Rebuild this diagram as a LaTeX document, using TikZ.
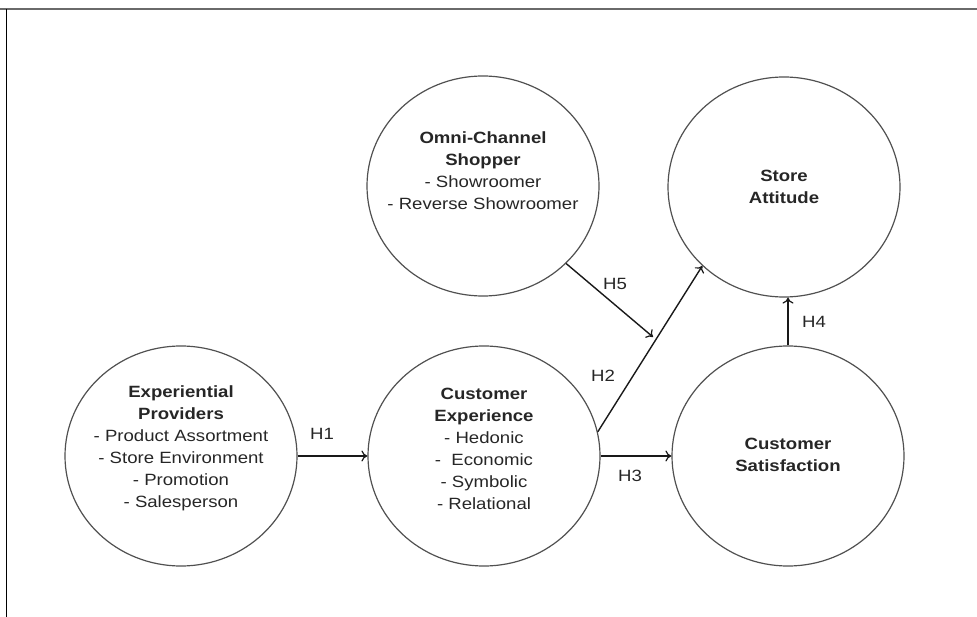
\documentclass[tikz,border=0pt]{standalone}
\usepackage{fontspec}
\setmainfont{Liberation Sans}[FakeStretch=1.14]
\usetikzlibrary{shapes.geometric,arrows.meta}
\definecolor{circgray}{HTML}{505050}
\definecolor{framegray}{HTML}{6A6A6A}
\tikzset{
  construct/.style={ellipse, draw=circgray, line width=1.2pt, minimum width=232pt, minimum height=220pt, inner sep=0pt},
  label text/.style={align=center, font=\fontsize{16.3}{22}\selectfont, text=black!85},
  hyp/.style={draw=black!90, line width=1.4pt, -{To[length=6pt,width=11pt,line width=1.2pt]}},
  hlabel/.style={font=\fontsize{16.3}{18}\selectfont, text=black!85},
}
\begin{document}
\begin{tikzpicture}[x=1pt,y=-1pt]
\useasboundingbox (0,0) rectangle (977,617);
% frame
\draw[framegray, line width=2pt] (0,9) -- (977,9);
\draw[black, line width=1.5pt] (6.5,9) -- (6.5,617);
% constructs
\node[construct] (ep) at (181,456) {};
\node[construct] (ce) at (484,456) {};
\node[construct] (cs) at (788,456) {};
\node[construct] (oc) at (483,186) {};
\node[construct] (sa) at (784,187) {};
% texts
\node[label text] (tep) at (181,448) {\textbf{Experiential}\\\textbf{Providers}\\- Product Assortment\\- Store Environment\\- Promotion\\- Salesperson};
\node[label text] (tce) at (484,449) {\textbf{Customer}\\\textbf{Experience}\\- Hedonic\\-\ \ Economic\\- Symbolic\\- Relational};
\node[label text] (tcs) at (788,455) {\textbf{Customer}\\\textbf{Satisfaction}};
\node[label text] (toc) at (483,171) {\textbf{Omni-Channel}\\\textbf{Shopper}\\- Showroomer\\- Reverse Showroomer};
\node[label text] (tsa) at (784,186.5) {\textbf{Store}\\\textbf{Attitude}};
% hypotheses
\draw[hyp] (ep.east) -- (ce.west);
\draw[hyp] (ce.east) -- (cs.west);
\draw[hyp] (ce.12.5) -- (sa.-136);
\coordinate (h5end) at (653,337);
\draw[hyp] (oc.-43) -- (h5end);
\draw[hyp] (cs.north) -- (cs.north |- sa.south);
% labels
\node[hlabel] (h1) at (322,434) {H1};
\node[hlabel] (h2) at (603,376) {H2};
\node[hlabel] (h3) at (630,476) {H3};
\node[hlabel] (h4) at (814,322) {H4};
\node[hlabel] (h5) at (615,284) {H5};
\end{tikzpicture}
\end{document}
